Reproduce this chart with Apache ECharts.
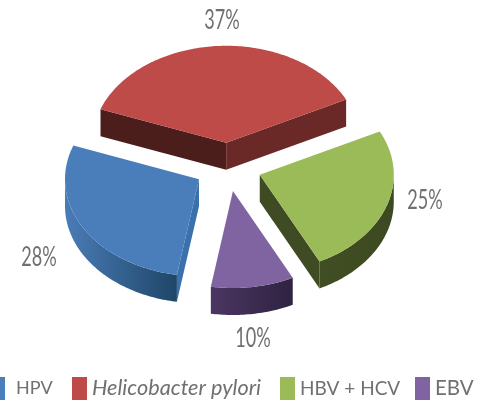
<!DOCTYPE html>
<html>
<head>
<meta charset="utf-8">
<style>
  html, body { margin: 0; padding: 0; background: #fff; }
  #chart { width: 481px; height: 406px; }
</style>
</head>
<body>
<div id="chart"></div>
<script src="https://cdn.jsdelivr.net/npm/echarts@6/dist/echarts.min.js"></script>
<script>
const sliceNames = ['HPV', 'Helicobacter pylori', 'HBV + HCV', 'EBV'];
const sliceShares = [28, 37, 25, 10];

// clockwise from 12 o'clock
const startAngle = 189.5;
const topColors = ['#4a7ebb', '#be4b48', '#9bbb59', '#8064a2'];
const rimColors = [['#4a7cb6', '#1f4669'], ['#5a2422', '#5a2422'], ['#414e23', '#3d4920'], ['#4b3663', '#2e2340']];
const wallColors = [['#3a70ac', '#3a70ac'], ['#4c1e1b', '#6a2826'], ['#3f4b22', '#3f4b22'], ['#3a2a50', '#3a2a50']];
const labelAnchors = [[39, 258], [222, 21], [425, 201], [253, 339]];
const legendLefts = [-10, 72, 280, 415];
const legendFontSizes = [18, 21.7, 19, 20.5];

const cx = 228, cy = 167, rx = 134, ry = 97, depth = 27, explode = 0.25;

function arcPoint(ox, oy, deg) {
    const a = deg * Math.PI / 180;
    return [ox + rx * Math.sin(a), oy - ry * Math.cos(a)];
}

function renderSlice(params, api) {
    const i = params.seriesIndex;
    const from = api.value(1);
    const to = from + api.value(0) * 3.6;
    const mid = (from + to) / 2 * Math.PI / 180;
    const ox = cx + explode * rx * Math.sin(mid);
    const oy = cy - explode * ry * Math.cos(mid);
    const children = [];
    const apex = [ox, oy];
    const p1 = arcPoint(ox, oy, from);
    const p2 = arcPoint(ox, oy, to);

    function drop(p) { return [p[0], p[1] + depth]; }

    // radial walls, only the ones turned towards the viewer
    if (p1[0] < ox) {
        children.push({ type: 'polygon', shape: { points: [apex, p1, drop(p1), drop(apex)] },
            style: { fill: wallColors[i][0] } });
    }
    if (p2[0] > ox) {
        children.push({ type: 'polygon', shape: { points: [apex, p2, drop(p2), drop(apex)] },
            style: { fill: wallColors[i][1] } });
    }

    // outer rim, front half of the ellipse only
    const rimFrom = Math.max(from, 90), rimTo = Math.min(to, 270);
    if (rimFrom < rimTo) {
        const upper = [];
        for (let d = rimFrom; d <= rimTo; d += 1) upper.push(arcPoint(ox, oy, d));
        upper.push(arcPoint(ox, oy, rimTo));
        const lower = upper.map(drop).reverse();
        children.push({ type: 'polygon', shape: { points: upper.concat(lower) },
            style: { fill: new echarts.graphic.LinearGradient(0, 0, 1, 0, [
                { offset: 0, color: rimColors[i][0] },
                { offset: 1, color: rimColors[i][1] }
            ]) } });
    }

    // top face
    const pts = [apex];
    for (let d = from; d <= to; d += 1) pts.push(arcPoint(ox, oy, d));
    pts.push(p2);
    children.push({ type: 'polygon', shape: { points: pts }, style: { fill: topColors[i] } });

    // the source text is squeezed sideways and stretched upwards
    children.push({ type: 'text',
        x: labelAnchors[i][0], y: labelAnchors[i][1],
        scaleX: 0.86, scaleY: 1.25,
        style: {
            text: api.value(0) + '%', fill: '#707070', font: '400 21px Lato',
            align: 'center', verticalAlign: 'middle'
        } });

    return { type: 'group', children: children };
}

let running = startAngle;
const series = sliceNames.map(function (name, i) {
    const row = [sliceShares[i], running % 360];
    running += sliceShares[i] * 3.6;
    return {
        type: 'custom',
        name: name,
        coordinateSystem: 'none',
        renderItem: renderSlice,
        data: [row],
        color: topColors[i],
        silent: true
    };
});

const legends = sliceNames.map(function (name, i) {
    return {
        data: [name],
        left: legendLefts[i],
        top: 377,
        icon: 'rect',
        itemWidth: 15,
        itemHeight: 23,
        itemGap: 0,
        padding: 0,
        selectedMode: false,
        textStyle: {
            fontFamily: 'Lato',
            fontSize: legendFontSizes[i],
            color: '#707070',
            padding: [4, 0, 0, i === 0 ? 6 : 0],
            fontStyle: i === 1 ? 'italic' : 'normal'
        }
    };
});

let myChart = echarts.init(document.querySelector('#chart'));
myChart.setOption({
    backgroundColor: '#fff',
    animation: false,
    legend: legends,
    series: series
});
</script>
</body>
</html>
